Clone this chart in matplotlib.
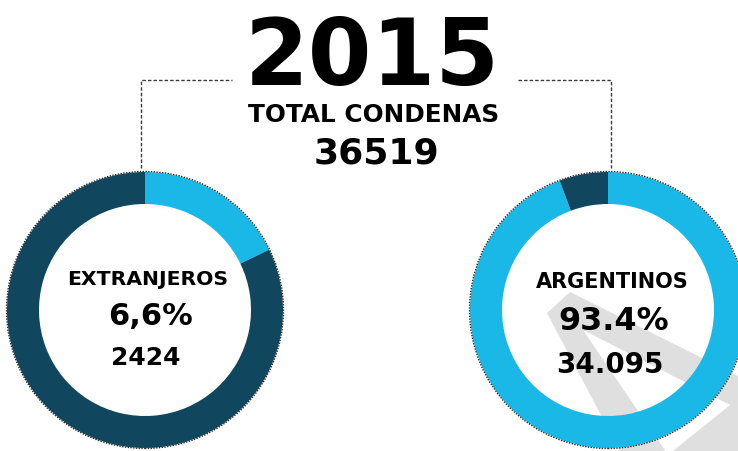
import matplotlib
matplotlib.use("Agg")
import matplotlib.pyplot as plt
from matplotlib.patches import Circle, Polygon

# ---------------- data ----------------
year_label = "2015"
total_label = "TOTAL CONDENAS"
total_value = "36519"

groups = ["EXTRANJEROS", "ARGENTINOS"]
group_pct_labels = ["6,6%", "93.4%"]
group_count_labels = ["2424", "34.095"]

# arc shares as drawn in the picture (clockwise from 12 o'clock)
left_arc_shares = [17.8, 82.2]    # light blue, navy
right_arc_shares = [94.3, 5.7]    # light blue, navy

# ---------------- style ----------------
W, H = 738, 451
NAVY = "#10475f"
CYAN = "#1ab8e6"
GREY = "#dfdfdf"
FONT = "DejaVu Sans"

fig = plt.figure(figsize=(W / 100, H / 100), dpi=100)
ax = fig.add_axes([0, 0, 1, 1])


def Y(y_img):
    return H - y_img


R = 138
RING = 32
centers = [(145, Y(310)), (608, Y(310))]

# decorative grey cursor shape behind the right donut
outer = [(547, 313), (570, 292), (760, 387), (760, 470), (630, 470)]
inner = [(583, 330), (730, 405), (668, 455)]
ax.add_patch(Polygon([(x, Y(y)) for x, y in outer], closed=True,
                     facecolor=GREY, edgecolor="none", zorder=0))
ax.add_patch(Polygon([(x, Y(y)) for x, y in inner], closed=True,
                     facecolor="white", edgecolor="none", zorder=0.5))

# donuts
for shares, colors, c in [
    (left_arc_shares, [CYAN, NAVY], centers[0]),
    (right_arc_shares, [CYAN, NAVY], centers[1]),
]:
    wedges, _ = ax.pie(shares, colors=colors, center=c, radius=R,
                       startangle=90, counterclock=False,
                       wedgeprops=dict(width=RING, edgecolor="none",
                                       linewidth=0),
                       frame=True)
    for w in wedges:
        w.set_zorder(2)
    ax.add_patch(Circle(c, R + 0.5, facecolor="none", edgecolor="#2a2a2a",
                        linewidth=1.0, linestyle=(0, (1, 1)), zorder=3))

ax.set_xlim(0, W)
ax.set_ylim(0, H)
ax.set_aspect("equal")
ax.axis("off")

# dashed connectors
dash = dict(color="#3a3a3a", linewidth=1.0, linestyle=(0, (2.5, 1.5)), zorder=1)
ax.plot([141, 141, 232], [Y(168), Y(80), Y(80)], **dash)
ax.plot([518, 611, 611], [Y(80), Y(80), Y(168)], **dash)

# header texts
ax.text(372, Y(85), year_label, fontsize=66, fontweight="bold", family=FONT,
        ha="center", va="baseline", color="black", zorder=5)
ax.text(374, Y(122), total_label, fontsize=17.8, fontweight="bold", family=FONT,
        ha="center", va="baseline", color="black", zorder=5)
ax.text(376, Y(163), total_value, fontsize=26, fontweight="bold", family=FONT,
        ha="center", va="baseline", color="black", zorder=5)

# donut centre texts
name_y = [285, 288]
pct_y = [325, 330]
cnt_y = [365, 373]
xs = [148, 612]
name_sizes = [14.7, 15]
pct_sizes = [22, 23]
cnt_sizes = [18, 20]
for i in range(2):
    ax.text(xs[i], Y(name_y[i]), groups[i], fontsize=name_sizes[i],
            fontweight="bold", family=FONT, ha="center", va="baseline",
            color="black", zorder=5)
    ax.text(xs[i] + 2, Y(pct_y[i]), group_pct_labels[i], fontsize=pct_sizes[i],
            fontweight="bold", family=FONT, ha="center", va="baseline",
            color="black", zorder=5)
    ax.text(xs[i] - 2, Y(cnt_y[i]), group_count_labels[i], fontsize=cnt_sizes[i],
            fontweight="bold", family=FONT, ha="center", va="baseline",
            color="black", zorder=5)

fig.savefig("out.png", dpi=100, facecolor="white")
